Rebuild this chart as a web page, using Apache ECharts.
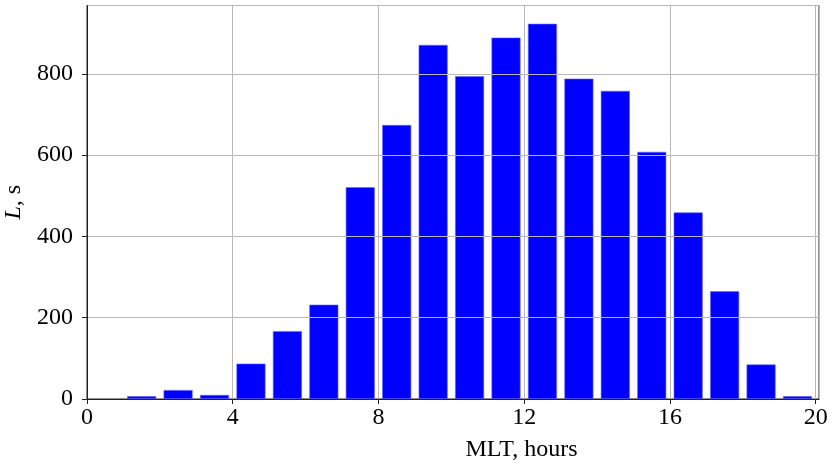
<!DOCTYPE html>
<html>
<head>
<meta charset="utf-8">
<script src="https://cdn.jsdelivr.net/npm/echarts@6/dist/echarts.min.js"></script>
<style>
  html, body { margin: 0; padding: 0; background: #fff; }
  #chart { width: 835px; height: 464px; }
</style>
</head>
<body>
<div id="chart"></div>
<script>
  // bin centres (MLT, hours) and bar heights (L, s)
  const mltHours = [1.5, 2.5, 3.5, 4.5, 5.5, 6.5, 7.5, 8.5, 9.5, 10.5, 11.5, 12.5, 13.5, 14.5, 15.5, 16.5, 17.5, 18.5, 19.5];
  const lValues = [7, 22, 10, 87, 167, 232, 521, 674, 871, 794, 889, 923, 788, 758, 608, 459, 265, 85, 7];
  const xTicks = [0, 4, 8, 12, 16, 20];
  const yTicks = [0, 200, 400, 600, 800];

  const font = 'Liberation Serif, Times New Roman, serif';
  const chart = echarts.init(document.getElementById('chart'));

  chart.setOption({
    animation: false,
    backgroundColor: '#fff',
    grid: {
      left: 87, right: 16, top: 5.5, bottom: 65,
      outerBoundsMode: 'none',
      containLabel: false,
      show: true, borderColor: '#222', borderWidth: 1, backgroundColor: 'transparent'
    },
    xAxis: {
      type: 'value',
      min: xTicks[0],
      max: 20.09,
      interval: xTicks[1] - xTicks[0],
      z: 5,
      name: 'MLT, hours',
      nameLocation: 'middle',
      nameGap: 39,
      // the title sits right of the plot centre in the original
      nameTextStyle: { fontFamily: font, fontSize: 24, color: '#000', padding: [0, 0, 0, 137] },
      axisLine: { lineStyle: { color: '#222', width: 1 } },
      axisTick: { show: true, length: 5, lineStyle: { color: '#222' } },
      axisLabel: { fontFamily: font, fontSize: 24, color: '#000', margin: 7, showMaxLabel: false },
      splitLine: { show: true, lineStyle: { color: '#b8b8b8', width: 1 } }
    },
    yAxis: {
      type: 'value',
      min: yTicks[0],
      max: 968,
      interval: yTicks[1] - yTicks[0],
      z: 5,
      name: '{i|L}, s',
      nameLocation: 'middle',
      nameRotate: 90,
      nameGap: 57,
      nameTextStyle: {
        fontFamily: font, fontSize: 24, color: '#000',
        rich: { i: { fontFamily: font, fontSize: 24, fontStyle: 'italic', color: '#000' } }
      },
      axisLine: { show: true, lineStyle: { color: '#222', width: 1 } },
      axisTick: { show: true, length: 5, lineStyle: { color: '#222' } },
      axisLabel: { fontFamily: font, fontSize: 24, color: '#000', margin: 14, showMaxLabel: false },
      splitLine: { show: true, lineStyle: { color: '#b8b8b8', width: 1 } }
    },
    series: [{
      type: 'bar',
      data: mltHours.map((x, i) => [x, lValues[i]]),
      barWidth: 29,
      itemStyle: { color: '#0000ff', borderColor: '#6a6aff', borderWidth: 0.6 },
      z: 2
    }]
  });
</script>
</body>
</html>
